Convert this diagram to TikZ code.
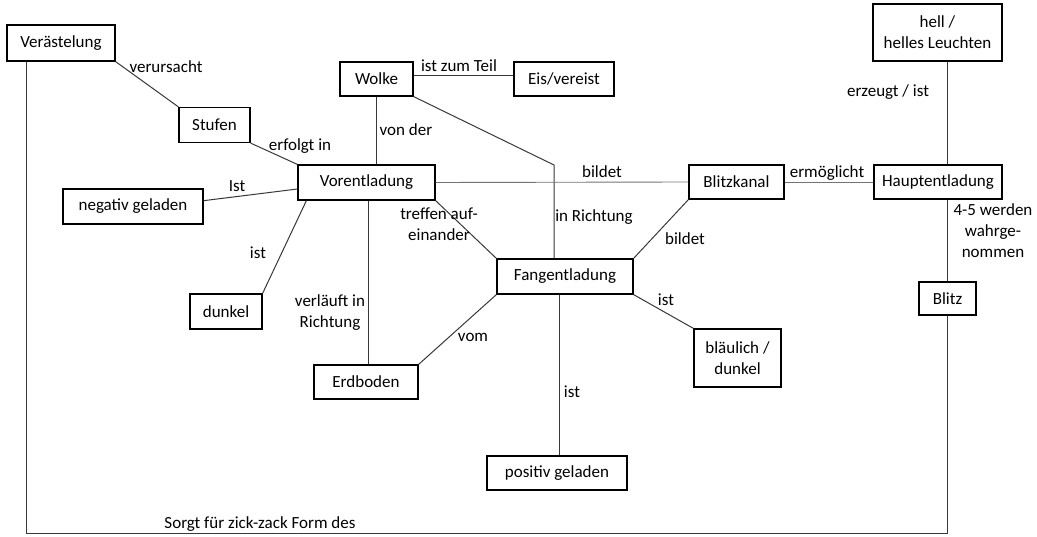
\documentclass[tikz,border=0pt]{standalone}
\usepackage{fontspec}
\setmainfont{Carlito}
\begin{document}
\begin{tikzpicture}[x=1pt,y=-1pt,
  every node/.style={font=\fontsize{17}{21}\selectfont, inner sep=0pt},
  box/.style={draw=black, line width=1.2pt, fill=white, align=center},
  link/.style={draw=black!78, line width=1pt},
  thin link/.style={draw=black!55, line width=0.9pt},
  lbl/.style={align=center}]
\useasboundingbox (0,0) rectangle (1037,537);

% concepts
\node[box, minimum width=108, minimum height=36] (verast) at (61,43) {Verästelung};
\node[box, minimum width=71,  minimum height=35] (stufen) at (214.5,125) {Stufen};
\node[box, minimum width=73,  minimum height=34] (wolke)  at (376.5,79) {Wolke};
\node[box, minimum width=100, minimum height=34] (eis)    at (564,79) {Eis/vereist};
\node[box, minimum width=137, minimum height=35] (vor)    at (366.5,182.5) {Vorentladung};
\node[box, minimum width=140, minimum height=35] (neg)    at (133,206.5) {negativ geladen};
\node[box, minimum width=72,  minimum height=35] (dunkel) at (226,311.5) {dunkel};
\node[box, minimum width=104, minimum height=34] (erd)    at (366,382) {Erdboden};
\node[box, minimum width=136, minimum height=35] (fang)   at (565,276.5) {Fangentladung};
\node[box, minimum width=87,  minimum height=58] (blau)   at (737.5,358) {bläulich /\\dunkel};
\node[box, minimum width=140, minimum height=34] (pos)    at (557,473) {positiv geladen};
\node[box, minimum width=95,  minimum height=34] (kanal)  at (736.5,182) {Blitzkanal};
\node[box, minimum width=128, minimum height=34] (haupt)  at (938,182) {Hauptentladung};
\node[box, minimum width=129, minimum height=57] (hell)   at (937.5,32.5) {hell /\\helles Leuchten};
\node[box, minimum width=57,  minimum height=33] (blitz)  at (947.5,298.5) {Blitz};

\coordinate (bend)  at (554,165);
\coordinate (floor) at (0,533);

% connections
\draw[link] (verast.south east) -- (stufen.north west);
\draw[link] (stufen.south east) -- (vor.north west);
\draw[link] ([yshift=-6.5pt]vor.west) -- ([yshift=5.8pt]neg.east);
\draw[link] ([xshift=9pt]vor.south west) -- (dunkel.north east);
\draw[link] ([xshift=1.5pt]vor.south) -- ([xshift=1.5pt]vor.south |- erd.north);
\draw[link] (vor.south east) -- (fang.north west);
\draw[link] (wolke.south) -- (wolke.south |- vor.north);
\draw[link] ([yshift=3pt]wolke.east) -- ([yshift=3pt]eis.west);
\draw[link] (wolke.south east) -- (bend) -- (bend |- fang.north);
\draw[thin link] (vor.east) -- (kanal.west);
\draw[link] (kanal.south west) -- (fang.north east);
\draw[thin link] (kanal.east) -- (haupt.west);
\draw[link] (blitz.north |- hell.south) -- (blitz.north |- haupt.north);
\draw[link] (blitz.north |- haupt.south) -- (blitz.north);
\draw[link] (fang.south west) -- (erd.north east);
\draw[link] ([xshift=2pt]pos.north |- fang.south) -- ([xshift=2pt]pos.north);
\draw[link] (fang.south east) -- (blau.north west);
\draw[link] ([xshift=20pt]verast.south west) |- (floor -| blitz.south) -- (blitz.south);

% link labels
\node[lbl] (t1)  at (166,67)  {verursacht};
\node[lbl] (t2)  at (300,146) {erfolgt in};
\node[lbl] (t3)  at (237,186) {Ist};
\node[lbl] (t4)  at (258,253) {ist};
\node[lbl] (t5)  at (330,313) {verläuft in\\Richtung};
\node[lbl] (t6)  at (406,130) {von der};
\node[lbl] (t7)  at (459,66)  {ist zum Teil};
\node[lbl] (t8)  at (602,172) {bildet};
\node[lbl] (t9)  at (594,217) {in Richtung};
\node[lbl] (t10) at (439,224) {treffen auf-\\einander};
\node[lbl] (t11) at (685,239) {bildet};
\node[lbl] (t12) at (666,300) {ist};
\node[lbl] (t13) at (473,337) {vom};
\node[lbl] (t14) at (572,392) {ist};
\node[lbl] (t15) at (827,173) {ermöglicht};
\node[lbl] (t16) at (888,92)  {erzeugt / ist};
\node[lbl] (t17) at (993,231) {4-5 werden\\wahrge-\\nommen};
\node[lbl] (t18) at (260,524) {Sorgt für zick-zack Form des};
\end{tikzpicture}
\end{document}
